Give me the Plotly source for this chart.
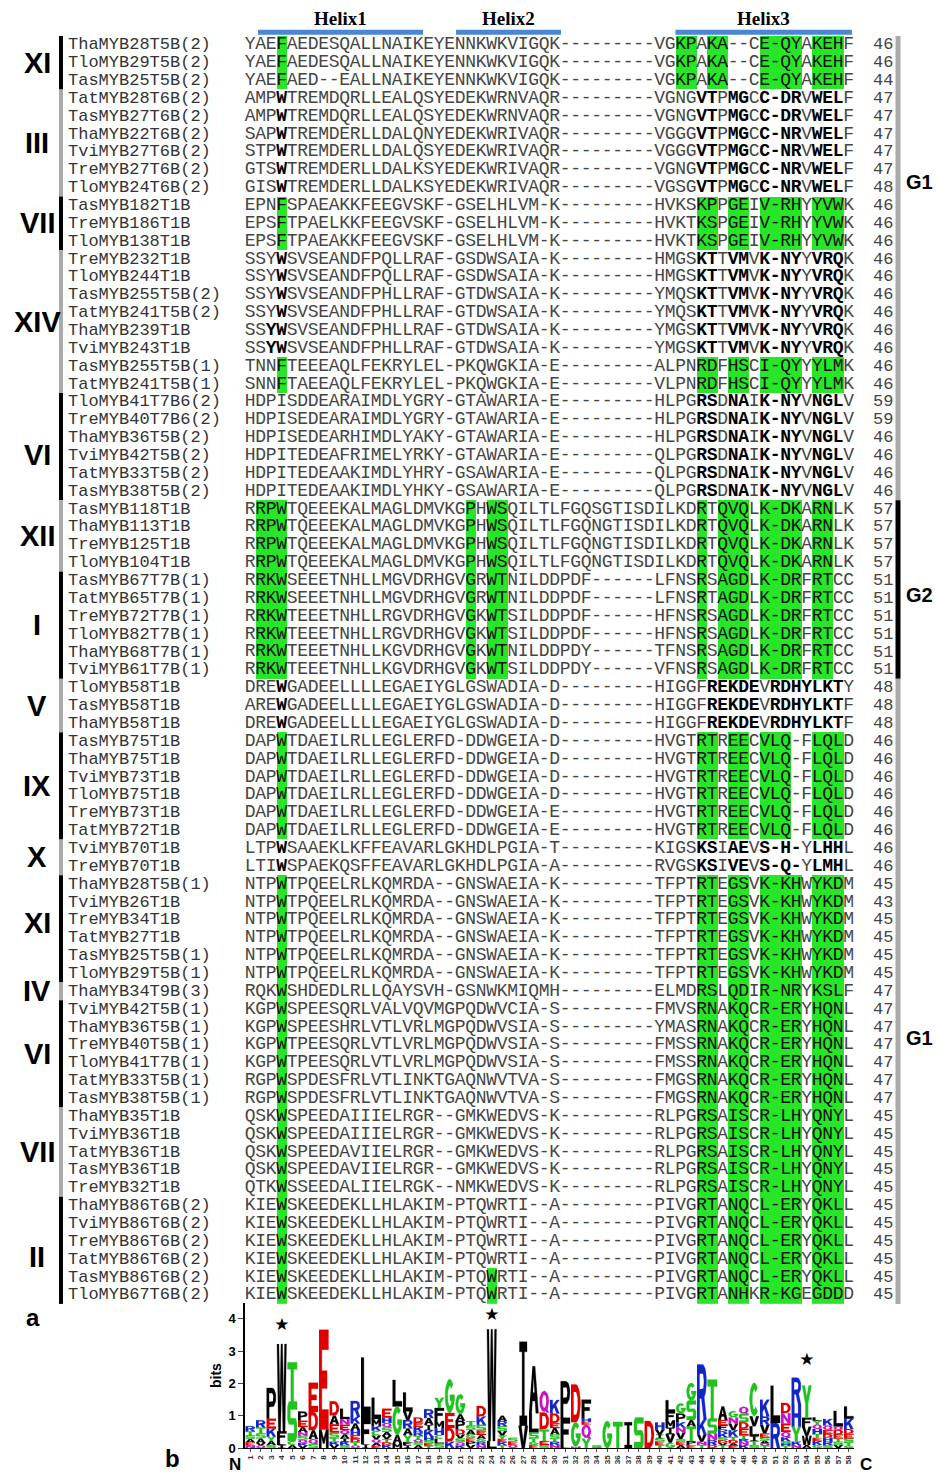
import numpy as np
import plotly.graph_objects as go

W, H = 936, 1481

NAMES = [
    "ThaMYB28T5B(2)", "TloMYB29T5B(2)", "TasMYB25T5B(2)",
    "TatMYB28T6B(2)", "TasMYB27T6B(2)", "ThaMYB22T6B(2)", "TviMYB27T6B(2)", "TreMYB27T6B(2)", "TloMYB24T6B(2)",
    "TasMYB182T1B", "TreMYB186T1B", "TloMYB138T1B",
    "TreMYB232T1B", "TloMYB244T1B", "TasMYB255T5B(2)", "TatMYB241T5B(2)", "ThaMYB239T1B", "TviMYB243T1B",
    "TasMYB255T5B(1)", "TatMYB241T5B(1)",
    "TloMYB41T7B6(2)", "TreMYB40T7B6(2)", "ThaMYB36T5B(2)", "TviMYB42T5B(2)", "TatMYB33T5B(2)", "TasMYB38T5B(2)",
    "TasMYB118T1B", "ThaMYB113T1B", "TreMYB125T1B", "TloMYB104T1B",
    "TasMYB67T7B(1)", "TatMYB65T7B(1)", "TreMYB72T7B(1)", "TloMYB82T7B(1)", "ThaMYB68T7B(1)", "TviMYB61T7B(1)",
    "TloMYB58T1B", "TasMYB58T1B", "ThaMYB58T1B",
    "TasMYB75T1B", "ThaMYB75T1B", "TviMYB73T1B", "TloMYB75T1B", "TreMYB73T1B", "TatMYB72T1B",
    "TviMYB70T1B", "TreMYB70T1B",
    "ThaMYB28T5B(1)", "TviMYB26T1B", "TreMYB34T1B", "TatMYB27T1B", "TasMYB25T5B(1)", "TloMYB29T5B(1)",
    "ThaMYB34T9B(3)",
    "TviMYB42T5B(1)", "ThaMYB36T5B(1)", "TreMYB40T5B(1)", "TloMYB41T7B(1)", "TatMYB33T5B(1)", "TasMYB38T5B(1)",
    "ThaMYB35T1B", "TviMYB36T1B", "TatMYB36T1B", "TasMYB36T1B", "TreMYB32T1B",
    "ThaMYB86T6B(2)", "TviMYB86T6B(2)", "TreMYB86T6B(2)", "TatMYB86T6B(2)", "TasMYB86T6B(2)", "TloMYB67T6B(2)",
]

SEQS = [
    "YAEFAEDESQALLNAIKEYENNKWKVIGQK---------VGKPAKA--CE-QYAKEHF",
    "YAEFAEDESQALLNAIKEYENNKWKVIGQK---------VGKPAKA--CE-QYAKEHF",
    "YAEFAED--EALLNAIKEYENNKWKVIGQK---------VGKPAKA--CE-QYAKEHF",
    "AMPWTREMDQRLLEALQSYEDEKWRNVAQR---------VGNGVTPMGCC-DRVWELF",
    "AMPWTREMDQRLLEALQSYEDEKWRNVAQR---------VGNGVTPMGCC-DRVWELF",
    "SAPWTREMDERLLDALQNYEDEKWRIVAQR---------VGGGVTPMGCC-NRVWELF",
    "STPWTREMDERLLDALQSYEDEKWRIVAQR---------VGGGVTPMGCC-NRVWELF",
    "GTSWTREMDERLLDALKSYEDEKWRIVAQR---------VGNGVTPMGCC-NRVWELF",
    "GISWTREMDERLLDALKSYEDEKWRIVAQR---------VGSGVTPMGCC-NRVWELF",
    "EPNFSPAEAKKFEEGVSKF-GSELHLVM-K---------HVKSKPPGEIV-RHYYVWK",
    "EPSFTPAELKKFEEGVSKF-GSELHLVM-K---------HVKTKSPGEIV-RHYYVWK",
    "EPSFTPAEAKKFEEGVSKF-GSELHLVM-K---------HVKTKSPGEIV-RHYYVWK",
    "SSYWSVSEANDFPQLLRAF-GSDWSAIA-K---------HMGSKTTVMVK-NYYVRQK",
    "SSYWSVSEANDFPQLLRAF-GSDWSAIA-K---------HMGSKTTVMVK-NYYVRQK",
    "SSYWSVSEANDFPHLLRAF-GTDWSAIA-K---------YMQSKTTVMVK-NYYVRQK",
    "SSYWSVSEANDFPHLLRAF-GTDWSAIA-K---------YMQSKTTVMVK-NYYVRQK",
    "SSYWSVSEANDFPHLLRAF-GTDWSAIA-K---------YMGSKTTVMVK-NYYVRQK",
    "SSYWSVSEANDFPHLLRAF-GTDWSAIA-K---------YMGSKTTVMVK-NYYVRQK",
    "TNNFTEEEAQLFEKRYLEL-PKQWGKIA-E---------ALPNRDFHSCI-QYYYLMK",
    "SNNFTAEEAQLFEKRYLEL-PKQWGKIA-E---------VLPNRDFHSCI-QYYYLMK",
    "HDPISDDEARAIMDLYGRY-GTAWARIA-E---------HLPGRSDNAIK-NYVNGLV",
    "HDPISEDEARAIMDLYGRY-GTAWARIA-E---------HLPGRSDNAIK-NYVNGLV",
    "HDPISEDEARHIMDLYAKY-GTAWARIA-E---------HLPGRSDNAIK-NYVNGLV",
    "HDPITEDEAFRIMELYRKY-GTAWARIA-E---------QLPGRSDNAIK-NYVNGLV",
    "HDPITEDEAAKIMDLYHRY-GSAWARIA-E---------QLPGRSDNAIK-NYVNGLV",
    "HDPITEDEAAKIMDLYHKY-GSAWARIA-E---------QLPGRSDNAIK-NYVNGLV",
    "RRPWTQEEEKALMAGLDMVKGPHWSQILTLFGQSGTISDILKDRTQVQLK-DKARNLK",
    "RRPWTQEEEKALMAGLDMVKGPHWSQILTLFGQNGTISDILKDRTQVQLK-DKARNLK",
    "RRPWTQEEEKALMAGLDMVKGPHWSQILTLFGQNGTISDILKDRTQVQLK-DKARNLK",
    "RRPWTQEEEKALMAGLDMVKGPHWSQILTLFGQNGTISDILKDRTQVQLK-DKARNLK",
    "RRKWSEEETNHLLMGVDRHGVGRWTNILDDPDF------LFNSRSAGDLK-DRFRTCC",
    "RRKWSEEETNHLLMGVDRHGVGRWTNILDDPDF------LFNSRTAGDLK-DRFRTCC",
    "RRKWTEEETNHLLRGVDRHGVGKWTSILDDPDF------HFNSRSAGDLK-DRFRTCC",
    "RRKWTEEETNHLLRGVDRHGVGKWTSILDDPDF------HFNSRSAGDLK-DRFRTCC",
    "RRKWTEEETNHLLKGVDRHGVGKWTNILDDPDY------TFNSRSAGDLK-DRFRTCC",
    "RRKWTEEETNHLLKGVDRHGVGKWTSILDDPDY------VFNSRSAGDLK-DRFRTCC",
    "DREWGADEELLLLEGAEIYGLGSWADIA-D---------HIGGFREKDEVRDHYLKTY",
    "AREWGADEELLLLEGAEIYGLGSWADIA-D---------HIGGFREKDEVRDHYLKTF",
    "DREWGADEELLLLEGAEIYGLGSWADIA-D---------HIGGFREKDEVRDHYLKTF",
    "DAPWTDAEILRLLEGLERFD-DDWGEIA-D---------HVGTRTREECVLQ-FLQLD",
    "DAPWTDAEILRLLEGLERFD-DDWGEIA-D---------HVGTRTREECVLQ-FLQLD",
    "DAPWTDAEILRLLEGLERFD-DDWGEIA-D---------HVGTRTREECVLQ-FLQLD",
    "DAPWTDAEILRLLEGLERFD-DDWGEIA-D---------HVGTRTREECVLQ-FLQLD",
    "DAPWTDAEILRLLEGLERFD-DDWGEIA-E---------HVGTRTREECVLQ-FLQLD",
    "DAPWTDAEILRLLEGLERFD-DDWGEIA-E---------HVGTRTREECVLQ-FLQLD",
    "LTPWSAAEKLKFFEAVARLGKHDLPGIA-T---------KIGSKSIAEVS-H-YLHHL",
    "LTIWSPAEKQSFFEAVARLGKHDLPGIA-A---------RVGSKSIVEVS-Q-YLMHL",
    "NTPWTPQEELRLKQMRDA--GNSWAEIA-K---------TFPTRTEGSVK-KHWYKDM",
    "NTPWTPQEELRLKQMRDA--GNSWAEIA-K---------TFPTRTEGSVK-KHWYKDM",
    "NTPWTPQEELRLKQMRDA--GNSWAEIA-K---------TFPTRTEGSVK-KHWYKDM",
    "NTPWTPQEELRLKQMRDA--GNSWAEIA-K---------TFPTRTEGSVK-KHWYKDM",
    "NTPWTPQEELRLKQMRDA--GNSWAEIA-K---------TFPTRTEGSVK-KHWYKDM",
    "NTPWTPQEELRLKQMRDA--GNSWAEIA-K---------TFPTRTEGSVK-KHWYKDM",
    "RQKWSHDEDLRLLQAYSVH-GSNWKMIQMH---------ELMDRSLQDIR-NRYKSLF",
    "KGPWSPEESQRLVALVQVMGPQDWVCIA-S---------FMVSRNAKQCR-ERYHQNL",
    "KGPWSPEESHRLVTLVRLMGPQDWVSIA-S---------YMASRNAKQCR-ERYHQNL",
    "KGPWTPEESQRLVTLVRLMGPQDWVSIA-S---------FMSSRNAKQCR-ERYHQNL",
    "KGPWTPEESQRLVTLVRLMGPQDWVSIA-S---------FMSSRNAKQCR-ERYHQNL",
    "RGPWSPDESFRLVTLINKTGAQNWVTVA-S---------FMGSRNAKQCR-ERYHQNL",
    "RGPWSPDESFRLVTLINKTGAQNWVTVA-S---------FMGSRNAKQCR-ERYHQNL",
    "QSKWSPEEDAIIIELRGR--GMKWEDVS-K---------RLPGRSAISCR-LHYQNYL",
    "QSKWSPEEDAIIIELRGR--GMKWEDVS-K---------RLPGRSAISCR-LHYQNYL",
    "QSKWSPEEDAVIIELRGR--GMKWEDVS-K---------RLPGRSAISCR-LHYQNYL",
    "QSKWSPEEDAVIIELRGR--GMKWEDVS-K---------RLPGRSAISCR-LHYQNYL",
    "QTKWSSEEDALIIELRGK--NMKWEDVS-K---------RLPGRSAISCR-LHYQNYL",
    "KIEWSKEEDEKLLHLAKIM-PTQWRTI--A---------PIVGRTANQCL-ERYQKLL",
    "KIEWSKEEDEKLLHLAKIM-PTQWRTI--A---------PIVGRTANQCL-ERYQKLL",
    "KIEWSKEEDEKLLHLAKIM-PTQWRTI--A---------PIVGRTANQCL-ERYQKLL",
    "KIEWSKEEDEKLLHLAKIM-PTQWRTI--A---------PIVGRTANQCL-ERYQKLL",
    "KIEWSKEEDEKLLHLAKIM-PTQWRTI--A---------PIVGRTANQCL-ERYQKLL",
    "KIEWSKEEDEKLLHLAKIM-PTQWRTI--A---------PIVGRTANHKR-KGEGDDD",
]

LENGTHS = [46, 46, 44, 47, 47, 47, 47, 47, 48, 46, 46, 46, 46, 46, 46, 46, 46, 46, 46, 46,
           59, 59, 46, 46, 46, 46, 57, 57, 57, 57, 51, 51, 51, 51, 51, 51, 48, 48, 48,
           46, 46, 46, 46, 46, 46, 46, 46, 45, 43, 45, 45, 45, 45, 47, 47, 47, 47, 47, 47, 47,
           45, 45, 45, 45, 45, 45, 45, 45, 45, 45, 45]

# group label, number of rows, label shift (rows) from the block centre
GROUPS = [("XI", 3, 0), ("III", 6, 0), ("VII", 3, 0), ("XIV", 8, 0), ("VI", 6, 0.45), ("XII", 4, 0),
          ("I", 6, 0), ("V", 3, 0), ("IX", 6, 0), ("X", 2, 0), ("XI", 6, -0.3), ("IV", 1, 0),
          ("VI", 6, 0), ("VII", 5, 0), ("II", 6, 0.4)]

# clade label, number of rows, row where label sits
CLADES = [("G1", 26, 8.7), ("G2", 10, 31.8), ("G1", 35, 56.6)]

# conserved columns (1-based) per row block: style, columns, row count
PAT_A = [4, 44, 45, 47, 48, 50, 51, 52, 53, 55, 56, 57]
XI_A = [4, 42, 43, 45, 46, 50, 51, 52, 53, 55, 56, 57]
XII_I = [2, 3, 4, 22, 24, 25, 44, 46, 47, 48, 50, 51, 52, 53, 55, 56]
IX_A = [4, 44, 45, 47, 48, 50, 51, 52, 55, 56, 57]
VI_B = [44, 45, 47, 48, 50, 51, 52, 53, 55, 56, 57]
V_B = [4, 45, 46, 47, 48, 49, 51, 52, 53, 54, 55, 56, 57]
MARKS = [("green", XI_A, 3), ("bold", PAT_A, 6), ("green", PAT_A, 3), ("bold", PAT_A, 4),
         ("bold", PAT_A + [3], 2), ("green", PAT_A, 2), ("bold", VI_B, 6), ("green", XII_I, 10),
         ("bold", V_B, 3), ("green", IX_A, 6), ("bold", PAT_A, 2), ("green", PAT_A, 22),
         ("green", PAT_A + [24], 2)]

HELICES = [("Helix1", 1.74, 17.45), ("Helix2", 20.6, 30.6), ("Helix3", 41.5, 58.3)]

# sequence logo: per position, (residue, bits) from bottom to top
LOGO = [
    [("N", .08), ("E", .10), ("A", .10), ("S", .12), ("T", .12), ("R", .16)],
    [("Q", .08), ("V", .08), ("A", .14), ("S", .16), ("T", .18), ("R", .22)],
    [("S", .10), ("A", .12), ("Y", .14), ("K", .25), ("E", .30), ("P", .95)],
    [("I", .10), ("L", .10), ("F", .32), ("W", 2.70)],
    [("A", .10), ("C", .12), ("S", 1.22), ("T", 1.22)],
    [("V", .08), ("K", .08), ("Q", .10), ("S", .12), ("N", .12), ("A", .15), ("E", .20), ("P", .28)],
    [("S", .13), ("Q", .15), ("A", .27), ("D", .57), ("E", .90)],
    [("M", .58), ("E", 3.08)],
    [("V", .10), ("K", .10), ("T", .12), ("S", .16), ("E", .26), ("A", .27), ("D", .44)],
    [("S", .10), ("K", .10), ("I", .10), ("A", .13), ("Q", .13), ("E", .16), ("N", .18), ("L", .32)],
    [("Q", .08), ("T", .10), ("D", .10), ("E", .12), ("H", .16), ("A", .20), ("K", .22), ("R", .48)],
    [("I", .12), ("F", .78), ("L", 1.90)],
    [("E", .07), ("A", .10), ("Q", .10), ("V", .12), ("C", .15), ("K", .14), ("M", .22), ("L", .66)],
    [("K", .10), ("D", .08), ("T", .10), ("V", .10), ("A", .12), ("S", .14), ("Q", .14), ("H", .16), ("E", .28)],
    [("M", .14), ("A", .27), ("G", .88), ("L", .82)],
    [("I", .09), ("F", .10), ("Y", .22), ("A", .20), ("R", .26), ("V", .27), ("L", .58)],
    [("A", .10), ("S", .08), ("Q", .10), ("T", .10), ("R", .13), ("K", .14), ("E", .14), ("D", .16)],
    [("T", .07), ("E", .08), ("S", .10), ("H", .10), ("K", .20), ("I", .17), ("A", .21), ("R", .27)],
    [("S", .14), ("L", .15), ("C", .12), ("H", .20), ("M", .23), ("F", .40), ("Y", .32)],
    [("K", .20), ("D", .42), ("E", .47), ("G", 1.04)],
    [("K", .08), ("Q", .10), ("S", .12), ("V", .12), ("D", .16), ("P", .27), ("A", .20), ("G", .62)],
    [("V", .10), ("P", .10), ("E", .10), ("G", .12), ("A", .14), ("S", .14), ("T", .14)],
    [("N", .09), ("R", .10), ("G", .10), ("A", .12), ("E", .13), ("S", .18), ("K", .26), ("D", .32)],
    [("L", .22), ("W", 3.46)],
    [("T", .09), ("K", .10), ("E", .10), ("Y", .10), ("V", .14), ("S", .15), ("R", .16), ("A", .16)],
    [("Q", .10), ("E", .10), ("S", .12)],
    [("V", .69), ("I", 2.60)],
    [("E", .10), ("G", .10), ("T", .10), ("S", .18), ("L", .60), ("A", 1.45)],
    [("S", .10), ("E", .12), ("T", .36), ("D", .52), ("Q", .67)],
    [("N", .10), ("R", .10), ("T", .10), ("S", .12), ("A", .20), ("E", .15), ("D", .30), ("K", .42)],
    [("L", .06), ("F", .88), ("P", 1.13)],
    [("N", .05), ("G", .75), ("D", 1.17)],
    [("Y", .30), ("Q", .42), ("E", .10), ("H", .10), ("F", .58)],
    [("S", .05), ("G", .04)],
    [("G", .84)],
    [("T", .82)],
    [("I", .80)],
    [("S", .95)],
    [("D", .84)],
    [("T", .10), ("E", .10), ("S", .10), ("I", .12), ("V", .15), ("H", .22)],
    [("G", .17), ("V", .26), ("I", .20), ("M", .23), ("F", .26), ("L", .36)],
    [("A", .10), ("E", .10), ("S", .08), ("V", .20), ("N", .16), ("K", .16), ("P", .27), ("G", .32)],
    [("E", .10), ("P", .12), ("T", .45), ("A", .20), ("S", .60), ("G", .55)],
    [("T", .10), ("N", .10), ("V", .22), ("K", .47), ("R", 1.70)],
    [("D", .10), ("R", .15), ("N", .20), ("S", .47), ("T", 1.20)],
    [("T", .08), ("V", .08), ("D", .08), ("S", .10), ("K", .12), ("R", .12), ("F", .13), ("E", .16), ("A", .42)],
    [("E", .08), ("A", .07), ("D", .10), ("T", .10), ("K", .20), ("V", .20), ("N", .20), ("G", .20)],
    [("K", .10), ("N", .10), ("R", .08), ("T", .12), ("E", .20), ("D", .20), ("S", .26), ("Q", .22)],
    [("S", .10), ("T", .12), ("I", .15), ("L", .31), ("V", .31), ("C", 1.03)],
    [("T", .07), ("Q", .08), ("A", .08), ("S", .10), ("E", .12), ("V", .27), ("R", .26), ("K", .52)],
    [("R", .78), ("L", 1.15)],
    [("T", .07), ("H", .07), ("S", .08), ("K", .12), ("Q", .16), ("E", .26), ("N", .32), ("D", .32)],
    [("N", .10), ("K", .10), ("Y", .47), ("H", .68), ("R", .83)],
    [("A", .10), ("W", .28), ("V", .28), ("F", .28), ("Y", 1.00)],
    [("G", .10), ("K", .12), ("E", .10), ("T", .12), ("H", .15), ("Q", .14), ("Y", .12), ("L", .10)],
    [("S", .10), ("R", .10), ("H", .12), ("D", .12), ("E", .12), ("Q", .14), ("K", .20)],
    [("V", .10), ("S", .10), ("T", .10), ("E", .12), ("D", .15), ("Q", .10), ("L", .48)],
    [("G", .08), ("T", .10), ("S", .12), ("E", .14), ("D", .15), ("K", .32), ("L", .38)],
]
STARS = [(4, 3.8), (24, 4.1), (54, 2.7)]

RES_COLORS = {"#000000": "AVLIPWFM", "#1fc21f": "GSTYC", "#1226c8": "KRH",
              "#e00000": "DE", "#c414c4": "NQ"}

GREEN = "#27e627"
GRAY_BAR = "#a9a9a9"
SEQ_FONT = "Liberation Mono"

n_rows = len(SEQS)
n_cols = len(SEQS[0])

# ---------------- geometry of the panels ----------------
X_DOM = [245 / W, 854 / W]
Y_DOM = [1 - 1311 / H, 1 - 36 / H]
Y2_DOM = [1 - 1456 / H, 1 - 1310 / H]
Y2_TOP = (1456 - 1310) / 32.5


def px(v):
    return v / W


def py(v):
    return 1 - v / H


# ---------------- build alignment character layers ----------------
row_style = []
for style, cols, cnt in MARKS:
    row_style += [(style, set(cols))] * cnt

z = np.full((n_rows, n_cols), np.nan)
layers = {"normal": ([], [], []), "bold": ([], [], []), "hl": ([], [], [])}
for r, seq in enumerate(SEQS):
    style, cols = row_style[r]
    for c, ch in enumerate(seq, start=1):
        if c in cols and style == "green":
            key = "hl"
            z[r, c - 1] = 1
        elif c in cols and style == "bold":
            key = "bold"
        else:
            key = "normal"
        layers[key][0].append(c)
        layers[key][1].append(r + 1)
        layers[key][2].append(ch)

fig = go.Figure()
fig.add_trace(go.Heatmap(
    z=z, x=list(range(1, n_cols + 1)), y=list(range(1, n_rows + 1)),
    colorscale=[[0, GREEN], [1, GREEN]], zmin=0, zmax=1, showscale=False,
    hoverinfo="skip", xaxis="x", yaxis="y"))

layer_fmt = {"normal": ("#454545", "normal"), "bold": ("#000000", "bold"), "hl": ("#111111", "normal")}
for key, (xs, ys, ts) in layers.items():
    col, wt = layer_fmt[key]
    fig.add_trace(go.Scatter(
        x=xs, y=ys, text=ts, mode="text", textposition="middle center",
        textfont=dict(family=SEQ_FONT, size=18, color=col, weight=wt),
        hoverinfo="skip", showlegend=False, xaxis="x", yaxis="y", cliponaxis=False))

# ---------------- sequence logo ----------------
def rect(x0, y0, x1, y1):
    return [(x0, y0), (x1, y0), (x1, y1), (x0, y1)]


def arc(cx, cy, rx, ry, a0, a1, n=18):
    t = np.radians(np.linspace(a0, a1, n))
    return list(zip(cx + rx * np.cos(t), cy + ry * np.sin(t)))


SX, SY = 0.28, 0.2


def band(a0, a1, cx=0.5, cy=0.5, rx=0.5, ry=0.5):
    return arc(cx, cy, rx, ry, a0, a1, 22) + arc(cx, cy, rx - SX, ry - SY, a1, a0, 22)


P_BOWL = [(0.28, 0.38), (0.6, 0.38)] + arc(0.6, 0.69, 0.4, 0.31, -90, 90) + [(0.6, 1), (0.28, 1)]
P_HOLE = [(0.28, 0.55), (0.6, 0.55)] + arc(0.6, 0.69, 0.12, 0.14, -90, 90) + [(0.6, 0.83), (0.28, 0.83)]

GLYPHS = {
    "A": ([[(0, 0), (0.28, 0), (0.36, 0.26), (0.64, 0.26), (0.72, 0), (1, 0), (0.64, 1), (0.36, 1)]],
          [[(0.42, 0.44), (0.58, 0.44), (0.5, 0.76)]]),
    "C": ([band(45, 315)], []),
    "D": ([[(0, 0), (0.5, 0)] + arc(0.5, 0.5, 0.5, 0.5, -90, 90) + [(0.5, 1), (0, 1)]],
          [[(0.28, 0.2), (0.5, 0.2)] + arc(0.5, 0.5, 0.22, 0.3, -90, 90) + [(0.5, 0.8), (0.28, 0.8)]]),
    "E": ([[(0, 0), (1, 0), (1, 0.2), (0.3, 0.2), (0.3, 0.41), (0.85, 0.41), (0.85, 0.59), (0.3, 0.59),
            (0.3, 0.8), (1, 0.8), (1, 1), (0, 1)]], []),
    "F": ([[(0, 0), (0.3, 0), (0.3, 0.41), (0.85, 0.41), (0.85, 0.59), (0.3, 0.59), (0.3, 0.8),
            (1, 0.8), (1, 1), (0, 1)]], []),
    "G": ([band(45, 360), rect(0.5, 0.36, 1, 0.54)], []),
    "H": ([[(0, 0), (0.3, 0), (0.3, 0.41), (0.7, 0.41), (0.7, 0), (1, 0), (1, 1), (0.7, 1), (0.7, 0.59),
            (0.3, 0.59), (0.3, 1), (0, 1)]], []),
    "I": ([[(0.1, 0), (0.9, 0), (0.9, 0.12), (0.62, 0.12), (0.62, 0.88), (0.9, 0.88), (0.9, 1), (0.1, 1),
            (0.1, 0.88), (0.38, 0.88), (0.38, 0.12), (0.1, 0.12)]], []),
    "K": ([rect(0, 0, 0.28, 1), [(0.28, 0.3), (1, 1), (0.7, 1), (0.28, 0.62)],
           [(0.68, 0), (1, 0), (0.62, 0.64), (0.42, 0.5)]], []),
    "L": ([[(0, 0), (1, 0), (1, 0.2), (0.3, 0.2), (0.3, 1), (0, 1)]], []),
    "M": ([[(0, 0), (0.25, 0), (0.25, 0.62), (0.42, 0.25), (0.58, 0.25), (0.75, 0.62), (0.75, 0), (1, 0),
            (1, 1), (0.75, 1), (0.5, 0.5), (0.25, 1), (0, 1)]], []),
    "N": ([[(0, 0), (0.27, 0), (0.27, 0.6), (0.73, 0), (1, 0), (1, 1), (0.73, 1), (0.73, 0.4), (0.27, 1),
            (0, 1)]], []),
    "P": ([rect(0, 0, 0.28, 1), P_BOWL], [P_HOLE]),
    "Q": ([arc(0.5, 0.52, 0.5, 0.48, 0, 360, 30), [(0.55, 0.2), (0.8, 0.2), (1, 0), (0.72, 0)]],
          [arc(0.5, 0.52, 0.22, 0.3, 0, 360, 30)]),
    "R": ([rect(0, 0, 0.28, 1), P_BOWL, [(0.45, 0.4), (0.7, 0), (1, 0), (0.75, 0.42)]], [P_HOLE]),
    "S": ([[(0, 0), (0.85, 0), (1, 0.12), (1, 0.46), (0.85, 0.58), (0.3, 0.58), (0.3, 0.8), (1, 0.8),
            (1, 1), (0.15, 1), (0, 0.88), (0, 0.54), (0.15, 0.42), (0.7, 0.42), (0.7, 0.2), (0, 0.2)]], []),
    "T": ([[(0, 1), (0, 0.82), (0.35, 0.82), (0.35, 0), (0.65, 0), (0.65, 0.82), (1, 0.82), (1, 1)]], []),
    "V": ([[(0, 1), (0.35, 0), (0.65, 0), (1, 1), (0.7, 1), (0.5, 0.3), (0.3, 1)]], []),
    "W": ([[(0, 1), (0.15, 0), (0.38, 0), (0.5, 0.6), (0.62, 0), (0.85, 0), (1, 1), (0.8, 1), (0.7, 0.35),
            (0.58, 1), (0.42, 1), (0.3, 0.35), (0.2, 1)]], []),
    "Y": ([[(0, 1), (0.35, 0.45), (0.35, 0), (0.65, 0), (0.65, 0.45), (1, 1), (0.7, 1), (0.5, 0.65),
            (0.3, 1)]], []),
}


def ccw(poly):
    a = 0.0
    for (x0, y0), (x1, y1) in zip(poly, poly[1:] + poly[:1]):
        a += x0 * y1 - x1 * y0
    return poly if a > 0 else poly[::-1]


res_color = {aa: col for col, aas in RES_COLORS.items() for aa in aas}
fills = {col: ([], []) for col in RES_COLORS}
holes = ([], [])
LW = 0.9
for pos, stack in enumerate(LOGO, start=1):
    base = 0.0
    for aa, h in stack:
        outers, inner = GLYPHS[aa]
        col = res_color[aa]
        for poly, target in [(p, fills[col]) for p in outers] + [(p, holes) for p in inner]:
            poly = ccw([(float(u), float(v)) for u, v in poly])
            for u, v in poly:
                target[0].append(pos - LW / 2 + u * LW)
                target[1].append(base + v * h)
            target[0].append(None)
            target[1].append(None)
        base += h

for col, (xs, ys) in fills.items():
    fig.add_trace(go.Scatter(x=xs, y=ys, mode="lines", fill="toself", fillcolor=col,
                             line=dict(width=0.3, color=col), hoverinfo="skip", showlegend=False,
                             xaxis="x2", yaxis="y2"))
fig.add_trace(go.Scatter(x=holes[0], y=holes[1], mode="lines", fill="toself", fillcolor="white",
                         line=dict(width=0, color="white"), hoverinfo="skip", showlegend=False,
                         xaxis="x2", yaxis="y2"))
fig.add_trace(go.Scatter(x=[s[0] for s in STARS], y=[s[1] for s in STARS], mode="text",
                         text=["★"] * len(STARS), textfont=dict(size=17, color="black", family="DejaVu Sans"),
                         hoverinfo="skip", showlegend=False, xaxis="x2", yaxis="y2", cliponaxis=False))

# ---------------- annotations and shapes ----------------
ann = []
shapes = []
for r, (name, ln) in enumerate(zip(NAMES, LENGTHS), start=1):
    ann.append(dict(x=px(66), y=r, xref="paper", yref="y", text=name, showarrow=False,
                    xanchor="left", yanchor="middle",
                    font=dict(family=SEQ_FONT, size=17, color="#333333")))
    ann.append(dict(x=px(883), y=r, xref="paper", yref="y", text=str(ln), showarrow=False,
                    xanchor="center", yanchor="middle",
                    font=dict(family=SEQ_FONT, size=17, color="#444444")))

start = 1
for i, (lab, cnt, shift) in enumerate(GROUPS):
    end = start + cnt - 1
    shapes.append(dict(type="line", xref="paper", yref="y", x0=px(61), x1=px(61),
                       y0=start - 0.5, y1=end + 0.5,
                       line=dict(color="black" if i % 2 == 0 else GRAY_BAR, width=4)))
    ann.append(dict(x=px(37), y=(start + end) / 2 + shift, xref="paper", yref="y", text=lab,
                    showarrow=False, xanchor="center", yanchor="middle",
                    font=dict(family="Liberation Sans", size=29, color="black", weight="bold")))
    start = end + 1

start = 1
for lab, cnt, lab_row in CLADES:
    end = start + cnt - 1
    shapes.append(dict(type="line", xref="paper", yref="y", x0=px(898), x1=px(898),
                       y0=start - 0.5, y1=end + 0.5,
                       line=dict(color="black" if lab == "G2" else GRAY_BAR, width=5)))
    ann.append(dict(x=px(919), y=lab_row, xref="paper", yref="y", text=lab, showarrow=False,
                    xanchor="center", yanchor="middle",
                    font=dict(family="Liberation Sans", size=20, color="black", weight="bold")))
    start = end + 1

for lab, c0, c1 in HELICES:
    shapes.append(dict(type="line", xref="x", yref="paper", x0=c0, x1=c1, y0=py(32.5), y1=py(32.5),
                       line=dict(color="#4a86d4", width=5)))
    ann.append(dict(x=(c0 + c1) / 2, y=py(19), xref="x", yref="paper", text=lab, showarrow=False,
                    xanchor="center", yanchor="middle",
                    font=dict(family="Liberation Serif", size=19, color="black", weight="bold")))

for txt, x, y, size in [("a", 33, 1325, 24), ("b", 172, 1466, 24), ("N", 235, 1472, 17), ("C", 866, 1472, 17)]:
    ann.append(dict(x=px(x), y=py(y), xref="paper", yref="paper", text=txt, showarrow=False,
                    xanchor="center", yanchor="middle",
                    font=dict(family="Liberation Sans", size=size, color="black", weight="bold")))

fig.update_layout(
    width=W, height=H, margin=dict(l=0, r=0, t=0, b=0),
    paper_bgcolor="white", plot_bgcolor="rgba(0,0,0,0)", showlegend=False,
    xaxis=dict(domain=X_DOM, range=[0.5, n_cols + 0.5], visible=False, anchor="y"),
    yaxis=dict(domain=Y_DOM, range=[n_rows + 0.5, 0.5], visible=False, anchor="x"),
    xaxis2=dict(domain=X_DOM, range=[0.5, n_cols + 0.5], anchor="y2",
                tickvals=list(range(1, n_cols + 1)), ticktext=[str(i) for i in range(1, n_cols + 1)],
                tickangle=-90, tickfont=dict(family="Liberation Sans", size=8, color="#333", weight="bold"),
                showline=True, linecolor="black", linewidth=1, ticks="outside", ticklen=3,
                tickcolor="#555", showgrid=False, zeroline=False),
    yaxis2=dict(domain=Y2_DOM, range=[0, Y2_TOP], anchor="x2", tickvals=[0, 1, 2, 3, 4],
                tickfont=dict(family="Liberation Sans", size=13, color="black", weight="bold"),
                showline=True, linecolor="black", linewidth=1.5, ticks="outside", ticklen=5,
                showgrid=False, zeroline=False,
                title=dict(text="bits", font=dict(family="Liberation Sans", size=14, color="black",
                                                   weight="bold"), standoff=4)),
    annotations=ann, shapes=shapes,
)

fig.write_html("out.html")
